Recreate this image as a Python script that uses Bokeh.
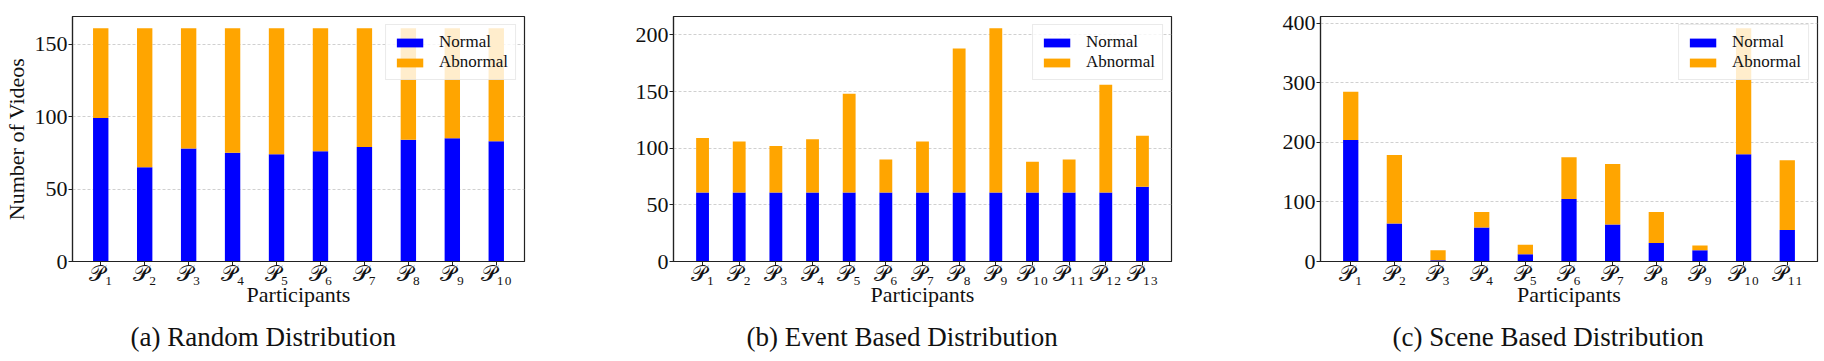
from bokeh.plotting import figure
from bokeh.models import ColumnDataSource, FixedTicker, Range1d, Title
from bokeh.layouts import row
from bokeh.embed import file_html
from bokeh.resources import INLINE

# ---- data ----
random_labels = ["𝒫₁", "𝒫₂", "𝒫₃", "𝒫₄", "𝒫₅", "𝒫₆", "𝒫₇", "𝒫₈", "𝒫₉", "𝒫₁₀"]
random_normal = [99, 65, 78, 75, 74, 76, 79, 84, 85, 83]
random_abnormal = [62, 96, 83, 86, 87, 85, 82, 77, 76, 78]

event_labels = ["𝒫₁", "𝒫₂", "𝒫₃", "𝒫₄", "𝒫₅", "𝒫₆", "𝒫₇", "𝒫₈", "𝒫₉", "𝒫₁₀", "𝒫₁₁", "𝒫₁₂", "𝒫₁₃"]
event_normal = [61, 61, 61, 61, 61, 61, 61, 61, 61, 61, 61, 61, 66]
event_abnormal = [48, 45, 41, 47, 87, 29, 45, 127, 145, 27, 29, 95, 45]

scene_labels = ["𝒫₁", "𝒫₂", "𝒫₃", "𝒫₄", "𝒫₅", "𝒫₆", "𝒫₇", "𝒫₈", "𝒫₉", "𝒫₁₀", "𝒫₁₁"]
scene_normal = [204, 64, 2, 57, 12, 105, 62, 31, 19, 180, 53]
scene_abnormal = [81, 115, 17, 26, 16, 70, 102, 52, 8, 212, 117]

y_ticks_random = [0, 50, 100, 150]
y_ticks_event = [0, 50, 100, 150, 200]
y_ticks_scene = [0, 100, 200, 300, 400]

captions = ["(a) Random Distribution", "(b) Event Based Distribution", "(c) Scene Based Distribution"]

SERIF = "'Liberation Serif', 'Times New Roman', serif"
BAR_W = 0.35


def make_panel(labels, normal, abnormal, yticks, caption, width, bl, br, cap_offset, ylabel=None):
    n = len(labels)
    xs = list(range(n))
    src = ColumnDataSource(dict(x=xs, Normal=normal, Abnormal=abnormal))
    totals = [a + b for a, b in zip(normal, abnormal)]
    ext = (n - 1) + BAR_W
    pad = 0.05 * ext
    p = figure(width=width, height=361, output_backend="svg", toolbar_location=None,
               x_range=Range1d(-BAR_W / 2 - pad, n - 1 + BAR_W / 2 + pad),
               y_range=Range1d(0, max(totals) * 1.05),
               min_border_left=bl, min_border_right=br, min_border_top=16, min_border_bottom=98)
    p.vbar_stack(["Normal", "Abnormal"], x="x", width=BAR_W, source=src,
                 color=["#0000ff", "#ffa500"], line_color=None,
                 legend_label=["Normal", "Abnormal"])
    p.background_fill_color = "white"
    p.border_fill_color = "white"
    p.outline_line_color = "#222222"
    p.outline_line_width = 1.2
    p.xgrid.grid_line_color = None
    p.ygrid.grid_line_color = "#c4c4c4"
    p.ygrid.grid_line_dash = "3 2"
    p.ygrid.grid_line_width = 0.8

    p.xaxis.ticker = FixedTicker(ticks=xs)
    p.xaxis.major_label_overrides = {i: lab for i, lab in enumerate(labels)}
    p.yaxis.ticker = FixedTicker(ticks=yticks)
    for ax in (p.xaxis[0], p.yaxis[0]):
        ax.axis_line_color = "#222222"
        ax.axis_line_width = 1.2
        ax.major_tick_out = 4
        ax.major_tick_in = 0
        ax.major_tick_line_color = "#222222"
        ax.minor_tick_line_color = None
        ax.major_label_text_font = SERIF
        ax.major_label_text_font_size = "22px"
        ax.major_label_text_color = "#111111"
        ax.major_label_standoff = 1
        ax.axis_label_text_font = SERIF
        ax.axis_label_text_font_size = "22px"
        ax.axis_label_text_font_style = "normal"
        ax.axis_label_text_color = "#111111"
        ax.axis_label_standoff = 0
    p.xaxis.major_label_standoff = -5
    p.xaxis.axis_label_standoff = -7
    p.yaxis.axis_label_standoff = 3
    p.xaxis.axis_label = "Participants"
    if ylabel:
        p.yaxis.axis_label = ylabel

    lg = p.legend[0]
    lg.location = "top_right"
    lg.margin = 8
    lg.padding = 7
    lg.spacing = 0
    lg.glyph_width = 33
    lg.glyph_height = 11
    lg.label_height = 19
    lg.label_standoff = 13
    lg.label_text_font = SERIF
    lg.label_text_font_size = "17px"
    lg.label_text_color = "#111111"
    lg.background_fill_color = "white"
    lg.background_fill_alpha = 0.8
    lg.border_line_color = "#d5d5d5"
    lg.border_line_width = 1

    cap = Title(text=caption, align="left", offset=cap_offset, text_font=SERIF,
                text_font_size="27px", text_font_style="normal", text_color="#111111",
                standoff=20)
    p.add_layout(cap, "below")
    return p


p1 = make_panel(random_labels, random_normal, random_abnormal, y_ticks_random, captions[0],
                560, 68, 36, 58, ylabel="Number of Videos")
p2 = make_panel(event_labels, event_normal, event_abnormal, y_ticks_event, captions[1],
                640, 113, 29, 73)
p3 = make_panel(scene_labels, scene_normal, scene_abnormal, y_ticks_scene, captions[2],
                624, 120, 7, 72)

layout = row(p1, p2, p3, spacing=0)
open("out.html", "w").write(file_html(layout, INLINE))
